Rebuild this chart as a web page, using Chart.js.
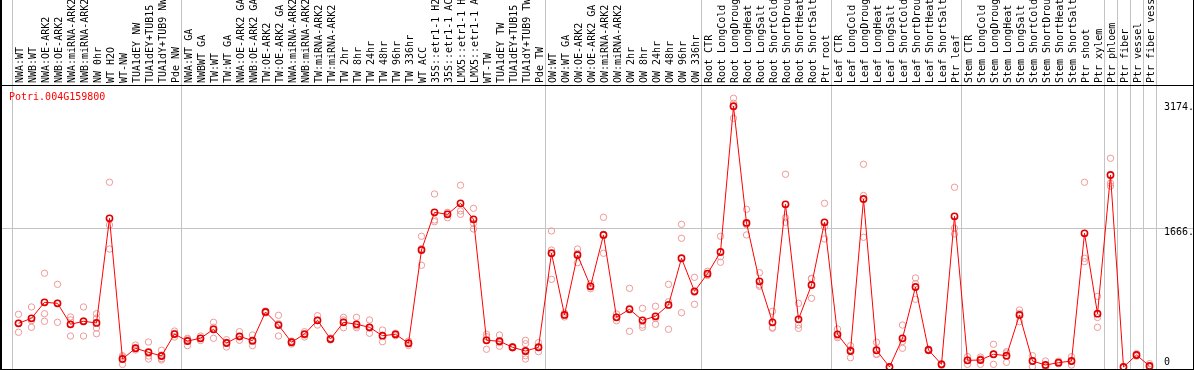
<!DOCTYPE html>
<html>
<head>
<meta charset="utf-8">
<script src="https://cdn.jsdelivr.net/npm/chart.js@4/dist/chart.umd.min.js"></script>
<style>
html,body{margin:0;padding:0;background:#fff;overflow:hidden}
#wrap{width:1194px;height:370px;position:relative}
</style>
</head>
<body>
<div id="wrap"><canvas id="c" width="1194" height="370"></canvas></div>
<script>
const geneName = 'Potri.004G159800';

const categories = [
  'NWA:WT','NWB:WT','NWA:OE-ARK2','NWB:OE-ARK2','NWA:miRNA-ARK2','NWB:miRNA-ARK2','NW 0hr','WT H2O','WT-NW','TUA1dEY NW',
  'TUA1dEY+TUB15 NW','TUA1dY+TUB9 NW','Pde NW',
  'NWA:WT GA','NWBWT GA','TW:WT','TW:WT GA','NWA:OE-ARK2 GA','NWB:OE-ARK2 GA','TW:OE-ARK2','TW:OE-ARK2 GA',
  'NWA:miRNA-ARK2 GA','NWB:miRNA-ARK2 GA','TW:miRNA-ARK2','TW:miRNA-ARK2 GA','TW 2hr','TW 8hr','TW 24hr','TW 48hr','TW 96hr','TW 336hr',
  'WT ACC','35S::etr1-1 H2O','35S::etr1-1 ACC','LMX5::etr1-1 H2O','LMX5::etr1-1 ACC','WT-TW','TUA1dEY TW','TUA1dEY+TUB15 TW','TUA1dY+TUB9 TW','Pde TW',
  'OW:WT','OW:WT GA','OW:OE-ARK2','OW:OE-ARK2 GA','OW:miRNA-ARK2','OW:miRNA-ARK2 GA','OW 2hr','OW 8hr','OW 24hr','OW 48hr','OW 96hr','OW 336hr',
  'Root CTR','Root LongCold','Root LongDrought','Root LongHeat','Root LongSalt','Root ShortCold','Root ShortDrought','Root ShortHeat','Root ShortSalt','Ptr root',
  'Leaf CTR','Leaf LongCold','Leaf LongDrought','Leaf LongHeat','Leaf LongSalt','Leaf ShortCold','Leaf ShortDrought','Leaf ShortHeat','Leaf ShortSalt','Ptr leaf',
  'Stem CTR','Stem LongCold','Stem LongDrought','Stem LongHeat','Stem LongSalt','Stem ShortCold','Stem ShortDrought','Stem ShortHeat','Stem ShortSalt','Ptr shoot','Ptr xylem',
  'Ptr phloem','Ptr fiber','Ptr vessel','Ptr fiber vessel'
];

const meanValues = [
  525, 585, 777, 765, 513, 549, 529, 1786, 96, 225,
  177, 132, 396, 312, 345, 453, 288, 369, 316, 661,
  504, 297, 396, 561, 336, 537, 513, 477, 376, 393,
  285, 1405, 1858, 1834, 1966, 1774, 321, 309, 237, 192,
  237, 1366, 625, 1345, 969, 1586, 597, 693, 561, 609,
  745, 1306, 909, 1121, 1381, 3132, 1730, 1029, 537, 1954,
  573, 985, 1738, 393, 192, 2018, 201, 0, 345, 961,
  204, 32, 1810, 80, 84, 153, 136, 625, 72, 24,
  52, 72, 1606, 640, 2306, 0, 144, 12
];

const repA = [
  633, 721, 1126, 993, 601, 721, 640, 2219, 136, 264,
  300, 201, 405, 345, 372, 537, 328, 424, 384, 673,
  621, 312, 424, 616, 348, 597, 597, 565, 444, 405,
  312, 1570, 2078, 1858, 2183, 1906, 393, 384, 240, 321,
  292, 1634, 649, 1417, 1000, 1798, 637, 945, 705, 729,
  993, 1714, 1077, 1150, 1570, 3228, 1894, 1133, 669, 2315,
  765, 1065, 1966, 456, 256, 2435, 297, 0, 504, 1069,
  216, 40, 2159, 124, 120, 273, 168, 685, 136, 72,
  70, 124, 2219, 849, 2507, 0, 160, 40
];

const repB = [
  417, 477, 640, 537, 372, 372, 585, 1706, 32, 204,
  96, 144, 360, 256, 318, 345, 240, 321, 256, 649,
  372, 276, 384, 504, 324, 472, 472, 405, 304, 376,
  285, 1222, 1766, 1793, 1874, 1726, 364, 249, 228, 280,
  184, 1405, 601, 1253, 940, 1366, 556, 429, 477, 513,
  784, 1546, 753, 1100, 1325, 3168, 1586, 969, 465, 1793,
  504, 825, 1685, 352, 112, 1558, 156, 0, 225, 813,
  196, 20, 1666, 32, 32, 32, 56, 544, 4, 0,
  40, 24, 1306, 477, 2207, 0, 130, 0
];

const repC = [
  525, 557, 549, 765, 566, 554, 468, 1417, 120, 228,
  132, 100, 432, 335, 345, 477, 296, 362, 308, 661,
  520, 303, 360, 563, 336, 565, 492, 468, 380, 398,
  258, 1423, 1745, 1851, 1834, 1658, 213, 294, 243, 184,
  235, 1053, 625, 1365, 967, 1594, 598, 705, 504, 585,
  453, 652, 897, 1113, 1258, 2987, 1710, 985, 477, 1738,
  465, 1060, 1538, 371, 208, 2060, 150, 0, 306, 1001,
  200, 36, 1598, 84, 100, 154, 184, 646, 76, 0,
  46, 68, 1265, 595, 2174, 0, 142, 0
];

const repD = [
  null, null, null, null, null, null, 400, null, null, null,
  null, 84, null, null, null, null, null, null, null, null,
  null, null, null, null, null, 540, null, null, null, null,
  null, null, null, null, null, null, null, null, null, 136,
  null, null, null, null, null, null, null, null, null, null,
  null, null, null, null, null, null, null, null, null, null,
  null, null, null, null, null, null, null, null, null, null,
  null, null, null, null, null, null, null, null, null, null,
  null, null, null, null, null, null, null, null
];

const repE = [
  null, null, null, null, null, null, null, null, null, null,
  null, null, null, null, null, null, null, null, null, null,
  null, null, null, null, null, null, null, null, null, null,
  null, null, null, null, null, null, null, null, null, 96,
  null, null, null, null, null, null, null, null, null, null,
  null, null, null, null, null, null, null, null, null, null,
  null, null, null, null, null, null, null, null, null, null,
  null, null, null, null, null, null, null, null, null, null,
  null, null, null, null, null, null, null, null
];

// index of first category of each sample group (separator drawn before it)
const groupStarts = [0, 13, 41, 53, 63, 73, 84, 85, 86, 87];

const yTickValues = [0, 1666, 3174];
const yTickLabels = ['0', '1666.', '3174.'];
const yGridValues = [1666];
const yMin = -24;
const yMax = 3387;

const FONT = 'DejaVu Sans Mono';
const GRID = '#c3c3c3';
const NONE = 'rgba(0,0,0,0)';

const sepColor = c => (c.type !== 'tick' || groupStarts.includes(c.index)) ? GRID : NONE;
const hColor = c => (c.tick && yGridValues.includes(c.tick.value)) ? GRID : NONE;
const setTicks = s => { s.ticks = yTickValues.map(v => ({ value: v })); };
const noPad = s => { s.paddingTop = 0; s.paddingBottom = 0; s.paddingLeft = 0; s.paddingRight = 0; };

const framePlugin = {
  id: 'frame',
  afterDraw(chart) {
    const { ctx, width, height, chartArea } = chart;
    ctx.save();
    ctx.fillStyle = '#000';
    ctx.fillRect(0, 0, 2, height);
    ctx.fillRect(width - 1, 0, 1, height);
    ctx.fillRect(0, chartArea.top, width, 1);
    ctx.fillRect(0, chartArea.bottom, width, 1);
    ctx.fillStyle = '#ff0000';
    ctx.font = '10px "' + FONT + '"';
    ctx.textBaseline = 'middle';
    ctx.textAlign = 'left';
    ctx.fillText(geneName, 9, chartArea.top + 12);
    ctx.restore();
  }
};

const repStyle = {
  showLine: false,
  pointStyle: 'circle',
  pointRadius: 3.2,
  pointBorderWidth: 1,
  pointBorderColor: '#ee9898',
  pointBackgroundColor: NONE,
  borderColor: '#ee9898',
  clip: false,
  order: 1
};

new Chart(document.getElementById('c'), {
  type: 'line',
  data: {
    labels: categories,
    datasets: [
      {
        label: 'mean',
        data: meanValues,
        borderColor: '#ff0000',
        borderWidth: 1,
        pointStyle: 'circle',
        pointRadius: 3.1,
        pointBorderWidth: 1.6,
        pointBorderColor: '#e00000',
        pointBackgroundColor: NONE,
        tension: 0,
        clip: false,
        order: 0
      },
      Object.assign({ label: 'rep A', data: repA }, repStyle),
      Object.assign({ label: 'rep B', data: repB }, repStyle),
      Object.assign({ label: 'rep C', data: repC }, repStyle),
      Object.assign({ label: 'rep D', data: repD }, repStyle),
      Object.assign({ label: 'rep E', data: repE }, repStyle)
    ]
  },
  options: {
    responsive: false,
    devicePixelRatio: 1,
    animation: false,
    events: [],
    layout: { autoPadding: false, padding: { left: 0, right: 0, top: 0, bottom: 1 } },
    plugins: { legend: { display: false }, tooltip: { enabled: false }, title: { display: false } },
    scales: {
      x: {
        position: 'top',
        offset: true,
        afterFit: s => { s.height = 85; noPad(s); },
        grid: { offset: true, color: sepColor, tickColor: sepColor, tickLength: 85, lineWidth: 1, drawTicks: true },
        border: { display: false },
        ticks: {
          autoSkip: false, minRotation: 90, maxRotation: 90, padding: -83, labelOffset: 13.5,
          color: '#000', font: { family: FONT, size: 10 }
        }
      },
      y: {
        position: 'right',
        min: yMin, max: yMax,
        afterBuildTicks: setTicks,
        afterFit: s => { s.width = 38; noPad(s); },
        grid: { color: hColor, tickColor: hColor, tickLength: 38, lineWidth: 1, drawTicks: true },
        border: { display: false },
        ticks: {
          padding: -30, color: '#000',
          font: { family: FONT, size: 10, lineHeight: 0.9 },
          callback: (v, i) => {
            const t = yTickLabels[yTickValues.indexOf(v)];
            return i === 0 ? [t, ''] : ['', t];
          }
        }
      },
      yl: {
        position: 'left',
        min: yMin, max: yMax,
        afterBuildTicks: setTicks,
        afterFit: s => { s.width = 12; noPad(s); },
        grid: { drawOnChartArea: false, color: hColor, tickColor: hColor, tickLength: 12, drawTicks: true },
        border: { display: false },
        ticks: { display: false }
      }
    }
  },
  plugins: [framePlugin]
});
</script>
</body>
</html>
